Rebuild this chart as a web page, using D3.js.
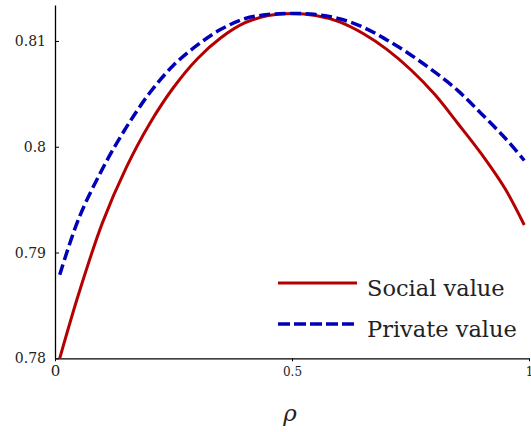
<!DOCTYPE html>
<html>
<head>
<meta charset="utf-8">
<script src="https://cdn.jsdelivr.net/npm/d3@7"></script>
<style>
  body { margin: 0; background: #fff; }
  svg text { font-family: "DejaVu Serif", serif; fill: #222; }
</style>
</head>
<body>
<svg id="chart" width="531" height="432"></svg>
<script>
// values
var rho = [0.01, 0.05, 0.10, 0.15, 0.20, 0.25, 0.30, 0.35, 0.40, 0.45, 0.50,
           0.55, 0.60, 0.65, 0.70, 0.75, 0.80, 0.85, 0.90, 0.95, 0.99];
var socialValue = [0.7800, 0.7861, 0.7928, 0.7980, 0.8022, 0.8056, 0.8083, 0.8103, 0.8117, 0.8124, 0.8126,
                   0.8124, 0.8118, 0.8107, 0.8092, 0.8073, 0.8050, 0.8022, 0.7993, 0.7960, 0.7926];
var privateValue = [0.7879, 0.7932, 0.7979, 0.8018, 0.8051, 0.8077, 0.8096, 0.8111, 0.8121, 0.8125, 0.8126,
                    0.8125, 0.8121, 0.8113, 0.8101, 0.8087, 0.8071, 0.8053, 0.8031, 0.8008, 0.7987];
var xTicks = [0, 0.5, 1];
var yTicks = [0.78, 0.79, 0.8, 0.81];
var seriesNames = ["Social value", "Private value"];

var svg = d3.select("#chart");

var x = d3.scaleLinear().domain([0, 1]).range([55, 529]);
var y = d3.scaleLinear().domain([0.78, 0.8134]).range([358.3, 5]);

// axes
var xAxis = svg.append("g")
    .attr("transform", "translate(0," + y(0.78) + ")")
    .call(d3.axisBottom(x).tickValues(xTicks).tickSizeInner(3).tickSizeOuter(0)
      .tickFormat(function(d) { return d === 0 ? "0" : d3.format("~g")(d); }));
xAxis.select(".domain").attr("stroke", "#000").attr("stroke-width", 1.3);
xAxis.selectAll(".tick line").attr("stroke", "#000");
xAxis.selectAll(".tick text")
    .attr("fill", "#222")
    .style("font-size", function(d) { return d === 0 ? "15px" : "12px"; })
    .attr("y", function(d) { return d === 0 ? 7 : 9; });

var yAxis = svg.append("g")
    .attr("transform", "translate(" + x(0) + ",0)")
    .call(d3.axisLeft(y).tickValues(yTicks).tickSizeInner(-4).tickSizeOuter(0)
      .tickFormat(d3.format("~g")));
yAxis.select(".domain").attr("stroke", "#000").attr("stroke-width", 1.3);
yAxis.selectAll(".tick line").attr("stroke", "#000");
yAxis.selectAll(".tick text")
    .attr("fill", "#222")
    .attr("x", -9)
    .style("font-size", "14px");

// curves
var line = d3.line()
    .curve(d3.curveCatmullRom.alpha(0.5))
    .x(function(d, i) { return x(rho[i]); })
    .y(function(d) { return y(d); });

svg.append("path")
    .datum(socialValue)
    .attr("fill", "none")
    .attr("stroke", "#b40000")
    .attr("stroke-width", 3)
    .attr("d", line);

svg.append("path")
    .datum(privateValue)
    .attr("fill", "none")
    .attr("stroke", "#0000b8")
    .attr("stroke-width", 3.5)
    .attr("stroke-dasharray", "11,4.5")
    .attr("d", line);

// legend
var legend = svg.append("g");
var legendStyles = [
  { color: "#b40000", width: 3, dash: null, y: 283 },
  { color: "#0000b8", width: 3.5, dash: "12,4", y: 324 }
];
legendStyles.forEach(function(s, i) {
  legend.append("line")
      .attr("x1", 278).attr("x2", 357)
      .attr("y1", s.y).attr("y2", s.y)
      .attr("stroke", s.color)
      .attr("stroke-width", s.width)
      .attr("stroke-dasharray", s.dash);
  legend.append("text")
      .attr("x", 367).attr("y", s.y + 13)
      .style("font-size", "22.5px")
      .text(seriesNames[i]);
});

// x label
svg.append("text")
    .attr("x", 290).attr("y", 421)
    .attr("text-anchor", "middle")
    .style("font-size", "23px")
    .style("font-style", "italic")
    .text("ρ");
</script>
</body>
</html>
